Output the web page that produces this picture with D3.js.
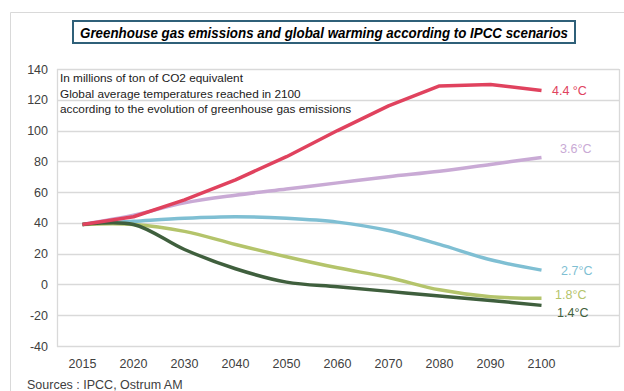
<!DOCTYPE html>
<html>
<head>
<meta charset="utf-8">
<script src="https://cdn.jsdelivr.net/npm/d3@7"></script>
<style>
  body { margin: 0; background: #fff; }
  text { font-family: "Liberation Sans", Arial, sans-serif; }
</style>
</head>
<body>
<div id="chart"></div>
<script>
var years = ["2015", "2020", "2030", "2040", "2050", "2060", "2070", "2080", "2090", "2100"];
var yTicks = [-40, -20, 0, 20, 40, 60, 80, 100, 120, 140];

var s44 = [39, 44, 55, 68, 83, 100, 116, 129, 130, 126];
var s36 = [39, 45, 53, 58, 62, 66, 70, 73.5, 78, 82.5];
var s27 = [39, 41, 43, 44, 43, 40.5, 35, 26, 16, 9.3];
var s18 = [39, 39, 34.5, 26, 18, 10.8, 4.5, -3.5, -8, -9];
var s14 = [39, 39, 22.7, 10.2, 1.5, -1.5, -4.5, -7.5, -10.4, -13.6];

var seriesNames = ["4.4 °C", "3.6°C", "2.7°C", "1.8°C", "1.4°C"];
var seriesColors = ["#e0425e", "#c9aad5", "#7fbfd3", "#b4c46b", "#3f5f3d"];

var W = 624, H = 391;
var svg = d3.select("#chart").append("svg")
    .attr("width", W)
    .attr("height", H);

// outer frame
svg.append("path")
    .attr("d", "M10.5," + H + "V12.5H" + W)
    .attr("fill", "none")
    .attr("stroke", "#d9d9d9")
    .attr("stroke-width", 1);

// title box
svg.append("rect")
    .attr("x", 73).attr("y", 21)
    .attr("width", 502).attr("height", 22)
    .attr("fill", "#fff")
    .attr("stroke", "#2f6079")
    .attr("stroke-width", 2);
svg.append("text")
    .attr("x", 80).attr("y", 37.5)
    .attr("textLength", 488)
    .attr("lengthAdjust", "spacingAndGlyphs")
    .style("font-size", "14.5px")
    .style("font-weight", "bold")
    .style("font-style", "italic")
    .attr("fill", "#000")
    .text("Greenhouse gas emissions and global warming according to IPCC scenarios");

var plotLeft = 57, plotRight = 619, plotTop = 69, plotBottom = 346;

var x = d3.scalePoint()
    .domain(years)
    .range([57, 567])
    .padding(0.5);

var y = d3.scaleLinear()
    .domain([-40, 140])
    .range([plotBottom, plotTop]);

// gridlines
svg.append("g")
  .selectAll("line")
  .data(yTicks)
  .enter()
  .append("line")
    .attr("x1", plotLeft)
    .attr("x2", plotRight)
    .attr("y1", function(d) { return Math.round(y(d)) + 0.5; })
    .attr("y2", function(d) { return Math.round(y(d)) + 0.5; })
    .attr("stroke", "#d9d9d9")
    .attr("stroke-width", 1.3);

// plot frame sides
svg.append("line")
    .attr("x1", plotLeft + 0.5).attr("x2", plotLeft + 0.5)
    .attr("y1", plotTop).attr("y2", plotBottom + 1)
    .attr("stroke", "#d9d9d9").attr("stroke-width", 1.3);
svg.append("line")
    .attr("x1", plotRight + 0.5).attr("x2", plotRight + 0.5)
    .attr("y1", plotTop).attr("y2", plotBottom + 1)
    .attr("stroke", "#d9d9d9").attr("stroke-width", 1.3);

// y axis labels
svg.append("g")
  .selectAll("text")
  .data(yTicks)
  .enter()
  .append("text")
    .attr("x", 48)
    .attr("y", function(d) { return y(d) + 4.5; })
    .attr("text-anchor", "end")
    .style("font-size", "12.5px")
    .attr("fill", "#404040")
    .text(function(d) { return d; });

// x axis labels
svg.append("g")
  .selectAll("text")
  .data(years)
  .enter()
  .append("text")
    .attr("x", function(d) { return x(d); })
    .attr("y", 367.5)
    .attr("text-anchor", "middle")
    .style("font-size", "12.5px")
    .attr("fill", "#404040")
    .text(function(d) { return d; });

// note
var notes = ["In millions of ton of CO2 equivalent",
             "Global average temperatures reached in 2100",
             "according to the evolution of greenhouse gas emissions"];
svg.append("g")
  .selectAll("text")
  .data(notes)
  .enter()
  .append("text")
    .attr("x", 60)
    .attr("y", function(d, i) { return 82 + i * 15.5; })
    .style("font-size", "11.8px")
    .attr("fill", "#1a1a1a")
    .text(function(d) { return d; });

// lines
var allSeries = [s36, s27, s18, s14, s44];
var order = [1, 2, 3, 4, 0];
var line = d3.line()
    .x(function(d, i) { return x(years[i]); })
    .y(function(d) { return y(d); })
    .curve(d3.curveCatmullRom.alpha(0.5));
var lineRed = d3.line()
    .x(function(d, i) { return x(years[i]); })
    .y(function(d) { return y(d); })
    .curve(d3.curveLinear);

allSeries.forEach(function(s, k) {
    var idx = order[k];
    svg.append("path")
        .attr("d", idx === 0 ? lineRed(s) : line(s))
        .attr("fill", "none")
        .attr("stroke", seriesColors[idx])
        .attr("stroke-width", 3.5)
        .attr("stroke-linejoin", "round");
});

// end labels
var labelPos = [[552, 95], [560, 153], [561, 275], [555, 299], [557, 317]];
seriesNames.forEach(function(name, i) {
    svg.append("text")
        .attr("x", labelPos[i][0])
        .attr("y", labelPos[i][1])
        .style("font-size", "12.5px")
        .attr("fill", seriesColors[i])
        .text(name);
});

// source
svg.append("text")
    .attr("x", 27)
    .attr("y", 389)
    .style("font-size", "12.5px")
    .attr("fill", "#404040")
    .text("Sources : IPCC, Ostrum AM");
</script>
</body>
</html>
